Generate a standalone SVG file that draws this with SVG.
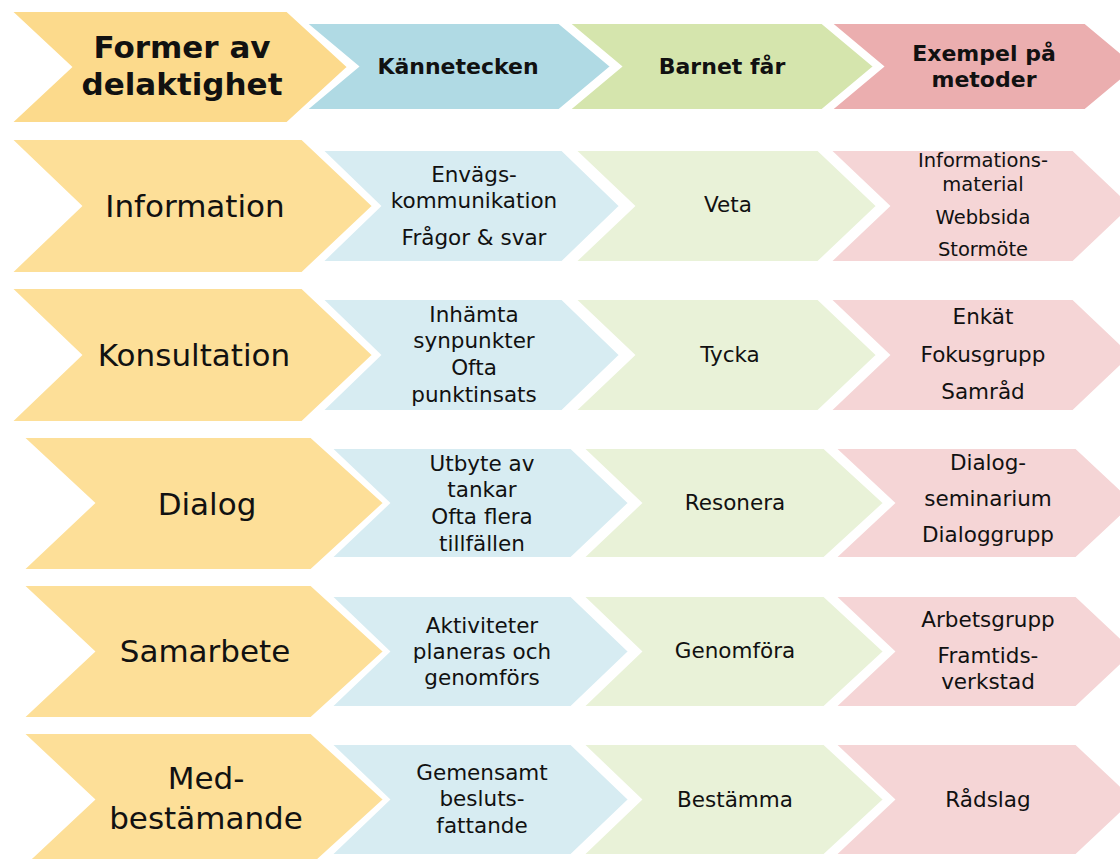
<svg xmlns="http://www.w3.org/2000/svg" width="1120" height="859" viewBox="0 0 1120 859">
<style>
.bg{fill:#ffffff}
.s{stroke:#ffffff;stroke-width:2;stroke-linejoin:miter}
.yh{fill:#FCDA8C}.bh{fill:#B0DAE4}.gh{fill:#D5E5AD}.ph{fill:#EBAEAF}
.y{fill:#FDDF98}.b{fill:#D7ECF2}.g{fill:#E9F2D8}.p{fill:#F5D5D6}
text{fill:#111111;text-anchor:middle;font-family:"DejaVu Sans",sans-serif}
.hb{font-weight:bold}
.h1{font-size:31px}.h2{font-size:22px}
.tt{font-size:31px}.m{font-size:21.5px}.sm{font-size:19.5px}
</style>
<rect class="bg" x="0" y="0" width="1120" height="859"/>

<g id="header">
  <g id="h-pink"><polygon class="ph s" points="831,23 1085,23 1137,66.5 1085,110 831,110 883,66.5"/>
    <text class="hb h2"><tspan x="984" y="61">Exempel på</tspan><tspan x="984" y="87">metoder</tspan></text></g>
  <g id="h-green"><polygon class="gh s" points="569,23 822,23 874,66.5 822,110 569,110 621,66.5"/>
    <text class="hb h2" x="722" y="74">Barnet får</text></g>
  <g id="h-blue"><polygon class="bh s" points="306,23 559,23 611,66.5 559,110 306,110 358,66.5"/>
    <text class="hb h2" x="458" y="74">Kännetecken</text></g>
  <g id="h-yellow"><polygon class="yh s" points="11,11 287,11 348,67 287,123 11,123 71,67"/>
    <text class="hb h1"><tspan x="182" y="58">Former av</tspan><tspan x="182" y="95">delaktighet</tspan></text></g>
</g>

<g id="row-information">
  <g id="r1-pink"><polygon class="p s" points="830,150 1073,150 1132,206 1073,262 830,262 889,206"/>
    <text class="sm"><tspan x="983" y="167">Informations-</tspan><tspan x="983" y="191">material</tspan><tspan x="983" y="224">Webbsida</tspan><tspan x="983" y="256">Stormöte</tspan></text></g>
  <g id="r1-green"><polygon class="g s" points="575,150 818,150 877,206 818,262 575,262 634,206"/>
    <text class="m" x="728" y="212">Veta</text></g>
  <g id="r1-blue"><polygon class="b s" points="322,150 562,150 620,206 562,262 322,262 380,206"/>
    <text class="m"><tspan x="474" y="182">Envägs-</tspan><tspan x="474" y="208">kommunikation</tspan><tspan x="474" y="245">Frågor &amp; svar</tspan></text></g>
  <g id="r1-yellow"><polygon class="y s" points="11,139 302,139 373,206 302,273 11,273 81,206"/>
    <text class="tt" x="195" y="217">Information</text></g>
</g>

<g id="row-konsultation">
  <g id="r2-pink"><polygon class="p s" points="830,299 1073,299 1132,355 1073,411 830,411 889,355"/>
    <text class="m"><tspan x="983" y="324">Enkät</tspan><tspan x="983" y="362">Fokusgrupp</tspan><tspan x="983" y="399">Samråd</tspan></text></g>
  <g id="r2-green"><polygon class="g s" points="575,299 818,299 877,355 818,411 575,411 634,355"/>
    <text class="m" x="730" y="362">Tycka</text></g>
  <g id="r2-blue"><polygon class="b s" points="322,299 562,299 620,355 562,411 322,411 380,355"/>
    <text class="m"><tspan x="474" y="322">Inhämta</tspan><tspan x="474" y="348">synpunkter</tspan><tspan x="474" y="375">Ofta</tspan><tspan x="474" y="402">punktinsats</tspan></text></g>
  <g id="r2-yellow"><polygon class="y s" points="11,288 302,288 373,355 302,422 11,422 81,355"/>
    <text class="tt" x="194" y="366">Konsultation</text></g>
</g>

<g id="row-dialog">
  <g id="r3-pink"><polygon class="p s" points="835,448 1076,448 1135,503 1076,558 835,558 894,503"/>
    <text class="m"><tspan x="988" y="470">Dialog-</tspan><tspan x="988" y="506">seminarium</tspan><tspan x="988" y="542">Dialoggrupp</tspan></text></g>
  <g id="r3-green"><polygon class="g s" points="583,448 824,448 884,503 824,558 583,558 641,503"/>
    <text class="m" x="735" y="510">Resonera</text></g>
  <g id="r3-blue"><polygon class="b s" points="331,448 571,448 629,503 571,558 331,558 389,503"/>
    <text class="m"><tspan x="482" y="471">Utbyte av</tspan><tspan x="482" y="497">tankar</tspan><tspan x="482" y="524">Ofta flera</tspan><tspan x="482" y="551">tillfällen</tspan></text></g>
  <g id="r3-yellow"><polygon class="y s" points="23,437 311,437 384,503 311,570 23,570 94,503"/>
    <text class="tt" x="207" y="515">Dialog</text></g>
</g>

<g id="row-samarbete">
  <g id="r4-pink"><polygon class="p s" points="835,596 1076,596 1135,651.5 1076,707 835,707 894,651.5"/>
    <text class="m"><tspan x="988" y="627">Arbetsgrupp</tspan><tspan x="988" y="663">Framtids-</tspan><tspan x="988" y="689">verkstad</tspan></text></g>
  <g id="r4-green"><polygon class="g s" points="583,596 824,596 884,651.5 824,707 583,707 641,651.5"/>
    <text class="m" x="735" y="658">Genomföra</text></g>
  <g id="r4-blue"><polygon class="b s" points="331,596 571,596 629,651.5 571,707 331,707 389,651.5"/>
    <text class="m"><tspan x="482" y="633">Aktiviteter</tspan><tspan x="482" y="659">planeras och</tspan><tspan x="482" y="685">genomförs</tspan></text></g>
  <g id="r4-yellow"><polygon class="y s" points="23,585 311,585 384,651.5 311,718 23,718 94,651.5"/>
    <text class="tt" x="205" y="662">Samarbete</text></g>
</g>

<g id="row-medbestamande">
  <g id="r5-pink"><polygon class="p s" points="835,744 1076,744 1135,799.5 1076,855 835,855 894,799.5"/>
    <text class="m" x="988" y="807">Rådslag</text></g>
  <g id="r5-green"><polygon class="g s" points="583,744 824,744 884,799.5 824,855 583,855 641,799.5"/>
    <text class="m" x="735" y="807">Bestämma</text></g>
  <g id="r5-blue"><polygon class="b s" points="331,744 571,744 629,799.5 571,855 331,855 389,799.5"/>
    <text class="m"><tspan x="482" y="780">Gemensamt</tspan><tspan x="482" y="806">besluts-</tspan><tspan x="482" y="833">fattande</tspan></text></g>
  <g id="r5-yellow"><polygon class="y s" points="23,733 311,733 384,799.5 311,866 23,866 94,799.5"/>
    <text class="tt"><tspan x="206" y="789">Med-</tspan><tspan x="206" y="829">bestämande</tspan></text></g>
</g>

<g id="connectors"></g>
</svg>
